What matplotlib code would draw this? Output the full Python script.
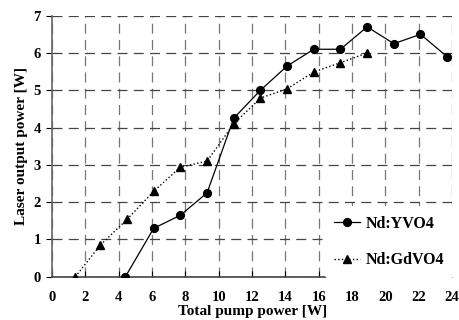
import numpy as np
import matplotlib
matplotlib.use('Agg')
import matplotlib.pyplot as plt

# Nd:YVO4 (circles, solid)
yvo_x = [4.4, 6.1, 7.7, 9.3, 10.9, 12.5, 14.1, 15.7, 17.3, 18.9, 20.5, 22.1, 23.7]
yvo_y = [0.0, 1.3, 1.65, 2.25, 4.25, 5.0, 5.65, 6.1, 6.1, 6.7, 6.25, 6.5, 5.9]

# Nd:GdVO4 (triangles, dotted)
gd_x = [1.4, 2.9, 4.5, 6.1, 7.7, 9.3, 10.9, 12.5, 14.1, 15.7, 17.3, 18.9]
gd_y = [0.0, 0.85, 1.54, 2.29, 2.94, 3.1, 4.1, 4.79, 5.04, 5.49, 5.74, 6.0]

xticks = list(range(0, 25, 2))
yticks = list(range(0, 8))

plt.rcParams['font.family'] = ['Liberation Serif', 'DejaVu Serif']
plt.rcParams['font.weight'] = 'bold'

fig = plt.figure(figsize=(4.6, 3.2), dpi=100)
ax = fig.add_axes([0.113, 0.135, 0.87, 0.816])

ax.plot(yvo_x, yvo_y, color='black', lw=0.9, marker='o', ms=5.6, label='Nd:YVO4', zorder=3)
ax.plot(gd_x, gd_y, color='black', lw=1.0, ls=':', marker='^', ms=6.2, label='Nd:GdVO4', zorder=3)

ax.set_xlim(0, 24)
ax.set_ylim(0, 7)
ax.set_xticks(xticks)
ax.set_yticks(yticks)
ax.grid(True, color='#444444', ls=(0, (8, 5)), lw=0.9)
ax.xaxis.grid(True, color='#777777')
ax.set_axisbelow(True)

for s in ['top', 'right']:
    ax.spines[s].set_visible(False)
ax.spines['left'].set_color('#666666')
ax.spines['bottom'].set_color('#444444')
ax.spines['left'].set_linewidth(1.2)
ax.spines['bottom'].set_linewidth(1.2)

ax.tick_params(axis='x', direction='in', length=4, labelsize=10.5, pad=10)
ax.tick_params(axis='y', direction='out', length=4, labelsize=10.5, pad=4)
for lab in ax.get_xticklabels() + ax.get_yticklabels():
    lab.set_fontweight('bold')

ax.set_xlabel('Total pump power [W]', fontsize=11, fontweight='bold', labelpad=1)
ax.set_ylabel('Laser output power [W]', fontsize=11, fontweight='bold', labelpad=4)

leg = ax.legend(loc='lower right', bbox_to_anchor=(1.025, -0.035), frameon=True,
                fontsize=11.5, handlelength=1.6, handletextpad=0.4,
                labelspacing=1.3, borderpad=0.6)
leg.get_frame().set_edgecolor('none')
leg.get_frame().set_facecolor('white')
leg.get_frame().set_alpha(1)
for t in leg.get_texts():
    t.set_fontweight('bold')

fig.savefig('out.png', dpi=100)
